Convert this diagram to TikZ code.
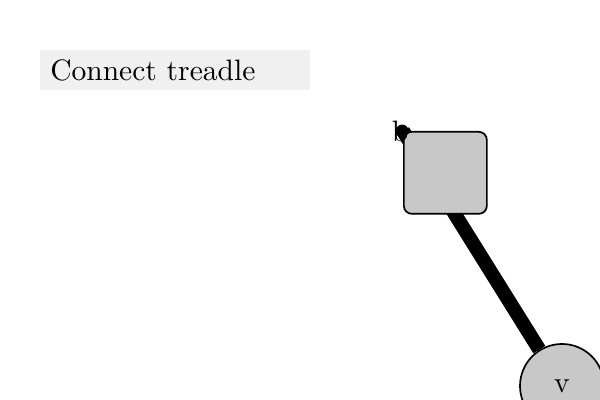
\documentclass[tikz,border=0pt]{standalone}
\usepackage{fontspec}
\usepackage{tikz}
\usetikzlibrary{arrows,shapes,positioning}
\usepackage{xcolor}
\newfontfamily\tdfont{lmroman10-regular.otf}
\definecolor{tdgray}{RGB}{200,200,200}
\definecolor{tdpanel}{RGB}{240,240,240}
\tikzstyle{caption} = [rectangle, anchor=north west, fill=tdpanel, minimum height=1cm, inner xsep=0.25cm, text width=6.25cm, align=left, font=\tdfont\fontsize{21}{25}\selectfont]
\tikzstyle{part} = [rectangle, rounded corners=0.2cm, minimum width=2.075cm, minimum height=2.05cm, draw=black, fill=tdgray, line width=1.2pt]
\tikzstyle{joint} = [circle, minimum size=2.1cm, draw=black, fill=tdgray, line width=1.2pt, font=\tdfont\fontsize{21}{25}\selectfont]
\tikzstyle{link} = [line width=10pt, color=black]

\begin{document}
\begin{tikzpicture}
\useasboundingbox (0,0) rectangle (15,10);
% Caption
\node[caption] (title) at (1,8.75) {Connect treadle};

% Corner point and joint
\coordinate (b) at (10.075,6.725);
\node[joint] (v) at (14.05,0.35) {v};

% Link
\draw[link] (b) -- (v);

% Treadle
\node[part, anchor=north west] (treadle) at (b) {};
\node[font=\tdfont\fontsize{21}{25}\selectfont, inner sep=0pt] (blabel) at ([xshift=-0.07cm]b) {b};
\fill[black] (b) ++(-0.02,0) circle (0.16);
\end{tikzpicture}
\end{document}
